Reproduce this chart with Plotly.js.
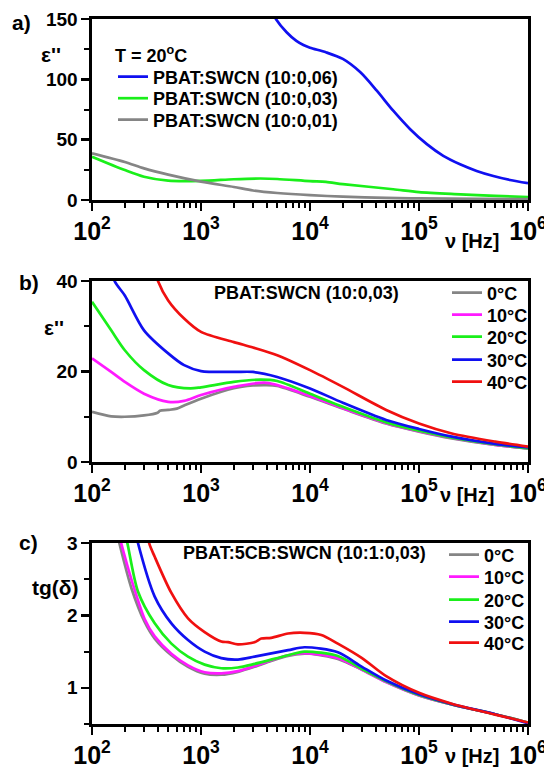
<!DOCTYPE html>
<html><head><meta charset="utf-8">
<script src="https://cdn.plot.ly/plotly-3.0.1.min.js"></script>
<style>html,body{margin:0;padding:0;background:#fff}#chart{width:544px;height:767px}</style>
</head><body><div id="chart"></div>
<script>
// ---------- DATA ----------
// Panel a) T = 20 C, epsilon''
const freqA06 = [4000,4900,6100,7500,8700,10000,14000,20000,29000,41000,58000,83000,118000,167000,238000,338000,481000,684000,1000000];
const epsA06  = [166,149.6,139,131.8,128.4,126.2,122.4,116.9,105.8,90.6,74,58.7,46.3,36.6,29.6,24.1,19.9,16.6,13.9];
const freqA03 = [100,200,300,500,1000,2000,3500,5000,10000,14000,20000,58000,100000,240000,500000,1000000];
const epsA03  = [35.9,24.8,19.3,16.0,15.8,17.2,17.8,17.4,15.6,15.0,13.2,8.9,6.5,4.7,3.4,2.5];
const freqA01 = [100,200,300,500,1000,2000,3000,5000,10000,20000,50000,100000,1000000];
const epsA01  = [38.7,31.5,26.2,21.0,15.2,10.8,7.9,5.8,4.0,2.8,1.8,1.3,0.7];
const namesA  = ["PBAT:SWCN (10:0,06)","PBAT:SWCN (10:0,03)","PBAT:SWCN (10:0,01)"];

// Panel b) PBAT:SWCN (10:0,03), epsilon''
const freqB0  = [100,150,200,300,400,420,500,600,700,1000,2000,3000,4000,5000,10000,20000,50000,100000,200000,500000,1000000];
const epsB0   = [11.1,10.1,10.0,10.3,10.9,11.3,11.5,11.8,12.5,14.0,16.3,16.9,17.0,16.8,14.4,11.8,8.5,6.7,5.2,3.75,3.0];
const freqB10 = [100,150,200,300,500,700,1000,2000,4000,10000,20000,50000,100000,200000,500000,1000000];
const epsB10  = [22.9,19.9,17.7,15.1,13.3,13.5,14.8,16.6,17.5,14.6,11.9,8.6,6.8,5.3,3.8,3.0];
const freqB20 = [100,150,200,300,500,800,1000,2000,3500,5000,10000,20000,50000,100000,200000,500000,1000000];
const epsB20  = [35.4,29.1,24.7,20.3,17.0,16.25,16.5,17.7,18.2,17.9,15.1,12.2,8.75,6.9,5.4,3.9,3.0];
const freqB30 = [130,161,200,300,500,700,1000,2000,3000,5000,10000,20000,50000,100000,200000,500000,1000000];
const epsB30  = [48,40,36.8,29.1,24.0,21.4,20.1,19.9,19.9,18.8,16.25,13.1,9.3,7.3,5.6,4.0,3.2];
const freqB40 = [330,403,500,700,1000,2000,3000,5000,10000,20000,50000,100000,200000,500000,1000000];
const epsB40  = [48,40,35.7,31.7,28.75,26.5,25.3,23.6,20.3,16.6,11.5,8.5,6.3,4.5,3.4];

// Panel c) PBAT:5CB:SWCN (10:1:0,03), tg(delta)
const freqC0  = [160,178,230,304,376,535,760,1080,1535,2180,3100,4400,6300,8900,10000,18000,30000,50000,100000,200000,500000,1000000];
const tgC0    = [3.3,3.0,2.375,1.91,1.68,1.45,1.29,1.195,1.18,1.22,1.29,1.37,1.44,1.47,1.47,1.40,1.25,1.08,0.895,0.77,0.635,0.52];
const freqC10 = [165,185,235,304,376,535,760,1080,1535,2180,3100,4400,6300,8900,18000,30000,50000,100000,200000,500000,1000000];
const tgC10   = [3.3,3.0,2.45,1.95,1.71,1.47,1.31,1.215,1.20,1.23,1.30,1.38,1.45,1.48,1.41,1.25,1.08,0.895,0.77,0.635,0.52];
const freqC20 = [190,211,264,376,535,760,1080,1535,2180,3100,6300,8900,18000,30000,50000,100000,200000,500000,1000000];
const tgC20   = [3.3,3.0,2.33,1.89,1.61,1.43,1.32,1.27,1.28,1.33,1.45,1.50,1.44,1.26,1.09,0.90,0.77,0.635,0.52];
const freqC30 = [235,264,376,535,760,1080,1535,2180,3100,6300,8900,18000,30000,50000,100000,200000,500000,1000000];
const tgC30   = [3.35,3.0,2.26,1.89,1.66,1.50,1.41,1.39,1.43,1.52,1.56,1.49,1.29,1.10,0.91,0.775,0.635,0.51];
const freqC40 = [300,334,376,535,760,1080,1535,1770,2180,3100,3570,4400,6300,8900,12700,18000,30000,50000,100000,200000,500000,1000000];
const tgC40   = [3.4,3.0,2.81,2.31,1.96,1.77,1.64,1.63,1.60,1.63,1.68,1.69,1.75,1.76,1.73,1.61,1.41,1.16,0.93,0.78,0.63,0.52];

const tempNames = ["0°C","10°C","20°C","30°C","40°C"];

// ---------- STYLE / LAYOUT ----------
const FONT = "Liberation Sans, Arial, sans-serif";
const cGray = "#858585", cMag = "#ff1aff", cGreen = "#1aef1a", cBlue = "#1010f0", cRed = "#f01010";
const W = 544, H = 767, L = 92, R = 15, T = 19, B = 43;
const px2x = p => (p - L) / (W - L - R);
const py2y = p => (H - B - p) / (H - T - B);

// one small legend per entry so that row spacing matches the original
const legendRows = [
  [113, 77], [113, 98.5], [113, 120],
  [447, 293], [447, 315], [447, 337], [447, 360], [447, 382],
  [444, 555], [444, 577], [444, 600], [444, 622], [444, 643]
];
const legId = i => (i === 0 ? "legend" : "legend" + (i + 1));

const series = [
  [freqA06, epsA06, cBlue, "x", "y", namesA[0]],
  [freqA03, epsA03, cGreen, "x", "y", namesA[1]],
  [freqA01, epsA01, cGray, "x", "y", namesA[2]],
  [freqB0, epsB0, cGray, "x2", "y2", tempNames[0]],
  [freqB10, epsB10, cMag, "x2", "y2", tempNames[1]],
  [freqB20, epsB20, cGreen, "x2", "y2", tempNames[2]],
  [freqB30, epsB30, cBlue, "x2", "y2", tempNames[3]],
  [freqB40, epsB40, cRed, "x2", "y2", tempNames[4]],
  [freqC0, tgC0, cGray, "x3", "y3", tempNames[0]],
  [freqC10, tgC10, cMag, "x3", "y3", tempNames[1]],
  [freqC20, tgC20, cGreen, "x3", "y3", tempNames[2]],
  [freqC30, tgC30, cBlue, "x3", "y3", tempNames[3]],
  [freqC40, tgC40, cRed, "x3", "y3", tempNames[4]]
];

const data = series.map((s, i) => ({
  x: s[0], y: s[1], type: "scatter", mode: "lines", name: s[5], xaxis: s[3], yaxis: s[4],
  legend: legId(i), showlegend: true,
  line: {color: s[2], width: 2.7, shape: "spline", smoothing: 0.8}
}));

const tickFont = {family: FONT, size: 19, color: "#000", weight: "bold"};
function xax(anchor) {
  return {type: "log", range: [2, 6], dtick: 1, exponentformat: "power", anchor: anchor, domain: [0, 1],
    showgrid: false, zeroline: false, showline: true, linewidth: 2.6, linecolor: "#000", mirror: true,
    ticks: "outside", ticklen: 8, tickwidth: 2.4, tickcolor: "#000",
    tickfont: {family: FONT, size: 20, color: "#000", weight: "bold"}, ticklabeloverflow: "allow",
    minor: {dtick: "D1", ticks: "outside", ticklen: 5, tickwidth: 2, tickcolor: "#000", showgrid: false},
    fixedrange: true};
}
function yax(domain, range, dtick, anchor) {
  return {domain: domain, range: range, dtick: dtick, tick0: 0, anchor: anchor,
    showgrid: false, zeroline: false, showline: true, linewidth: 2.6, linecolor: "#000", mirror: true,
    ticks: "outside", ticklen: 8, tickwidth: 2.4, tickcolor: "#000", tickfont: tickFont,
    minor: {dtick: dtick / 2, ticks: "outside", ticklen: 5, tickwidth: 2, tickcolor: "#000", showgrid: false},
    fixedrange: true};
}

const domA = [py2y(200), 1], domB = [py2y(462), py2y(281)], domC = [0, py2y(543)];
const legFont = {family: FONT, size: 18, color: "#000", weight: "bold"};
function ann(text, px, py, size, xanchor) {
  return {text: text, x: px2x(px), y: py2y(py), xref: "paper", yref: "paper", showarrow: false,
    xanchor: xanchor || "center", yanchor: "middle",
    font: {family: FONT, size: size, color: "#000", weight: "bold"}};
}

const layout = {
  width: W, height: H, margin: {l: L, r: R, t: T, b: B, pad: 0},
  paper_bgcolor: "#fff", plot_bgcolor: "#fff",
  xaxis: xax("y"), xaxis2: xax("y2"), xaxis3: xax("y3"),
  yaxis: yax(domA, [0, 150], 50, "x"),
  yaxis2: yax(domB, [0, 40], 20, "x2"),
  yaxis3: yax(domC, [0.5, 3], 1, "x3"),
  annotations: [
    ann("a)", 21, 22, 21), ann("b)", 29, 282, 21), ann("c)", 28, 542, 21),
    ann("ε''", 51, 55, 21), ann("ε''", 54, 327, 21), ann("tg(δ)", 55, 587, 21),
    ann("ν [Hz]", 473, 241, 20), ann("ν [Hz]", 468, 495, 20), ann("ν [Hz]", 473, 756, 20),
    ann("T = 20<sup>o</sup>C", 113, 55, 18, "left"),
    ann("PBAT:SWCN (10:0,03)", 307, 293, 18), ann("PBAT:5CB:SWCN (10:1:0,03)", 305, 553, 18)
  ],
  showlegend: true
};
legendRows.forEach((r, i) => {
  layout[legId(i)] = {x: px2x(r[0]), y: py2y(r[1]), xanchor: "left", yanchor: "middle",
    bgcolor: "rgba(0,0,0,0)", borderwidth: 0, font: legFont, itemwidth: 30};
});

Plotly.newPlot("chart", data, layout, {staticPlot: true, displayModeBar: false});
</script></body></html>
